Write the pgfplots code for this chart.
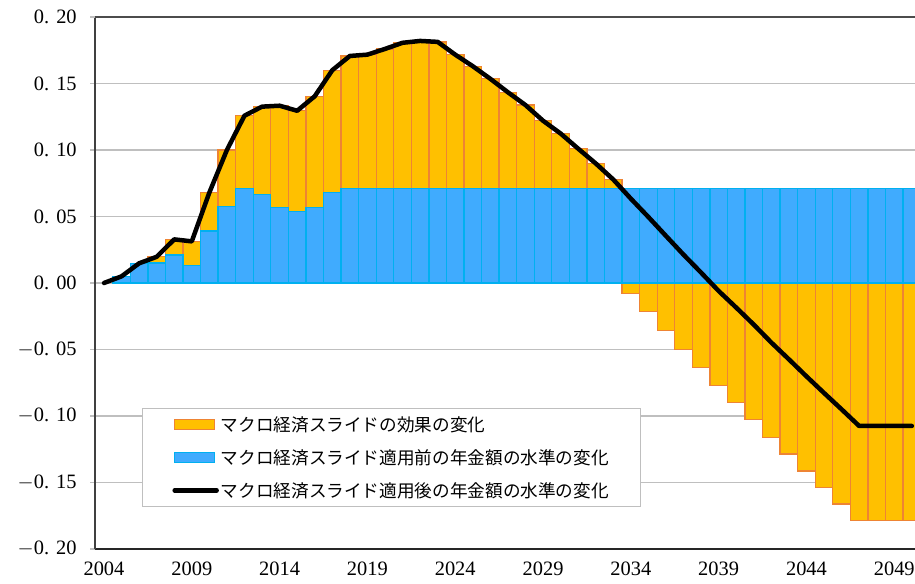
\documentclass[border=0pt]{standalone}
\usepackage{pgfplots}
\pgfplotsset{compat=1.18}
\usepackage{fontspec}
\setmainfont{Liberation Serif}
\newfontfamily\jp{Noto Sans CJK JP}
\definecolor{orfill}{HTML}{FFC000}
\definecolor{ordraw}{HTML}{EE8434}
\definecolor{blfill}{HTML}{40ABFE}
\definecolor{bldraw}{HTML}{00B0F0}
\definecolor{gridc}{HTML}{BFBFBF}
\begin{document}
\begin{tikzpicture}
\begin{axis}[
  width=819.8bp, height=532bp, scale only axis,
  xmin=2003.5, xmax=2050.18, ymin=-0.2, ymax=0.2,
  axis x line*=bottom, axis y line*=left,
  x axis line style={draw=black!85, line width=2bp},
  y axis line style={draw=black!75, line width=1.5bp},
  ytick={-0.2,-0.15,-0.1,-0.05,0,0.05,0.1,0.15,0.2},
  yticklabels={{$-$0.\hspace{0.35em}20},{$-$0.\hspace{0.35em}15},{$-$0.\hspace{0.35em}10},{$-$0.\hspace{0.35em}05},{0.\hspace{0.35em}00},{0.\hspace{0.35em}05},{0.\hspace{0.35em}10},{0.\hspace{0.35em}15},{0.\hspace{0.35em}20}},
  xtick={2004,2009,2014,2019,2024,2029,2034,2039,2044,2049},
  xticklabels={2004,2009,2014,2019,2024,2029,2034,2039,2044,2049},
  ymajorgrids, major grid style={draw=gridc, line width=1.3bp},
  extra y ticks={0.2}, extra y tick labels={},
  extra y tick style={major grid style={draw=black!70, line width=1.5bp}},
  tick align=outside, major tick length=5bp,
  ytick style={draw=gridc, line width=1.3bp},
  xtick style={draw=none},
  tick label style={font=\fontsize{20.5}{20}\selectfont},
  yticklabel style={xshift=-10bp},
  xticklabel style={yshift=-4bp},
  legend style={at={(0.057,0.265)}, anchor=north west, draw=gridc, line width=1bp,
    font=\jp\fontsize{17.7}{20}\selectfont, inner xsep=30bp, inner ysep=6bp,
    row sep=12.5bp, legend cell align=left},
]
\coordinate (ll) at (rel axis cs:0,0);
\coordinate (ur) at (rel axis cs:1,1);
\addplot[ybar, bar width=1, bar shift=0pt, fill=orfill, draw=ordraw, line width=1.3bp,
  legend image code/.code={\draw[fill=orfill, draw=ordraw, line width=1.2bp] (0bp,-5bp) rectangle (40bp,5bp);}]
coordinates {(2005,0.005)(2006,0.0148)(2007,0.0197)(2008,0.0328)(2009,0.0313)(2010,0.068)(2011,0.100)(2012,0.1258)(2013,0.1326)(2014,0.1333)(2015,0.1295)(2016,0.1404)(2017,0.160)(2018,0.1707)(2019,0.1717)(2020,0.176)(2021,0.1806)(2022,0.182)(2023,0.1813)(2024,0.1717)(2025,0.163)(2026,0.1535)(2027,0.1434)(2028,0.1338)(2029,0.122)(2030,0.1124)(2031,0.101)(2032,0.0899)(2033,0.0778)(2034,-0.0078)(2035,-0.0216)(2036,-0.0358)(2037,-0.0499)(2038,-0.0634)(2039,-0.0772)(2040,-0.0897)(2041,-0.1025)(2042,-0.116)(2043,-0.1286)(2044,-0.1414)(2045,-0.1539)(2046,-0.1662)(2047,-0.1787)(2048,-0.1787)(2049,-0.1787)(2050,-0.1787)};
\addlegendentry{マクロ経済スライドの効果の変化}
\addplot[ybar, bar width=1, bar shift=0pt, fill=blfill, draw=bldraw, line width=1.3bp,
  legend image code/.code={\draw[fill=blfill, draw=bldraw, line width=1.2bp] (0bp,-5bp) rectangle (40bp,5bp);}]
coordinates {(2005,0.005)(2006,0.0146)(2007,0.015)(2008,0.021)(2009,0.0134)(2010,0.039)(2011,0.0576)(2012,0.0712)(2013,0.0664)(2014,0.057)(2015,0.0538)(2016,0.057)(2017,0.068)(2018,0.0712)(2019,0.0712)(2020,0.0712)(2021,0.0712)(2022,0.0712)(2023,0.0712)(2024,0.0712)(2025,0.0712)(2026,0.0712)(2027,0.0712)(2028,0.0712)(2029,0.0712)(2030,0.0712)(2031,0.0712)(2032,0.0712)(2033,0.0712)(2034,0.0712)(2035,0.0712)(2036,0.0712)(2037,0.0712)(2038,0.0712)(2039,0.0712)(2040,0.0712)(2041,0.0712)(2042,0.0712)(2043,0.0712)(2044,0.0712)(2045,0.0712)(2046,0.0712)(2047,0.0712)(2048,0.0712)(2049,0.0712)(2050,0.0712)};
\addlegendentry{マクロ経済スライド適用前の年金額の水準の変化}
\addplot[black, line width=4.5bp, mark=none, line join=round, line cap=round,
  legend image code/.code={\draw[black, line width=4.5bp, line cap=round] (0bp,0bp) -- (42bp,0bp);}]
coordinates {(2004,0)(2005,0.005)(2006,0.0148)(2007,0.0197)(2008,0.0328)(2009,0.0313)(2010,0.068)(2011,0.100)(2012,0.1258)(2013,0.1326)(2014,0.1333)(2015,0.1295)(2016,0.1404)(2017,0.160)(2018,0.1707)(2019,0.1717)(2020,0.176)(2021,0.1806)(2022,0.182)(2023,0.1813)(2024,0.1717)(2025,0.163)(2026,0.1535)(2027,0.1434)(2028,0.1338)(2029,0.122)(2030,0.1124)(2031,0.101)(2032,0.0899)(2033,0.0778)(2034,0.0634)(2035,0.0496)(2036,0.0354)(2037,0.0213)(2038,0.0078)(2039,-0.006)(2040,-0.0185)(2041,-0.0313)(2042,-0.0448)(2043,-0.0574)(2044,-0.0702)(2045,-0.0827)(2046,-0.095)(2047,-0.1075)(2048,-0.1075)(2049,-0.1075)(2050,-0.1075)};
\addlegendentry{マクロ経済スライド適用後の年金額の水準の変化}
\end{axis}
\pgfresetboundingbox
\path[use as bounding box] ([xshift=-95.2bp,yshift=-35bp]ll) rectangle ([yshift=17bp]ur);
\end{tikzpicture}
\end{document}
